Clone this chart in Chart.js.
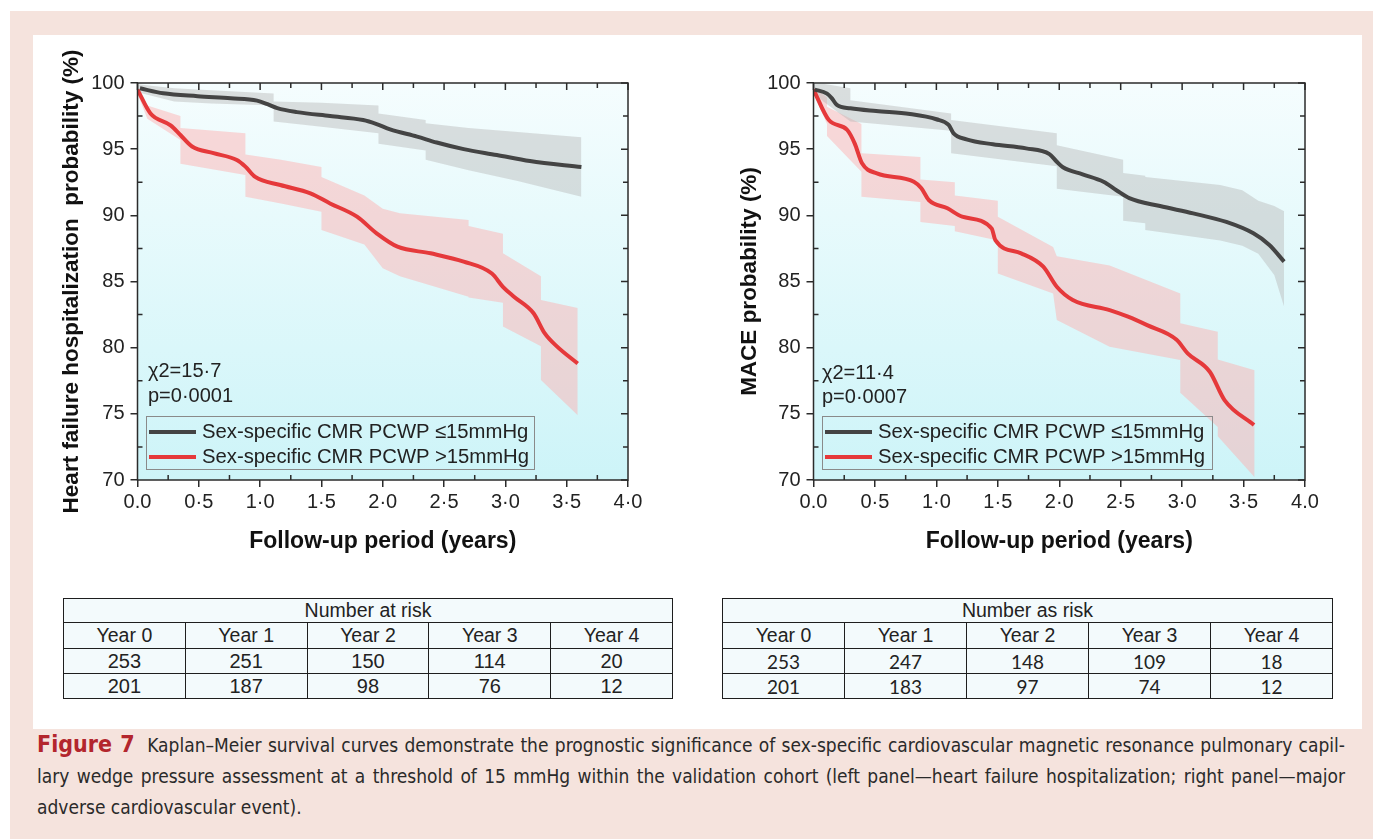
<!DOCTYPE html>
<html>
<head>
<meta charset="utf-8">
<script src="https://cdn.jsdelivr.net/npm/chart.js@4.4.0/dist/chart.umd.min.js"></script>
<style>
body { margin: 0; width: 1373px; height: 839px; background: #fff; position: relative; overflow: hidden;
       font-family: "Liberation Sans", Arial, sans-serif; color: #222; }
#pink { position: absolute; left: 10px; top: 11px; width: 1363px; height: 828px; background: #f5e3dd; }
#panel { position: absolute; left: 33px; top: 35px; width: 1329px; height: 694px; background: #fff; }
canvas { position: absolute; top: 40px; }
#cLeft { left: 40px; }
#cRight { left: 700px; }
.note { position: absolute; font-size: 20px; line-height: 25px; color: #222; white-space: nowrap; }
.legend { position: absolute; top: 416px; height: 54px; border: 1px solid #8a8a8a; box-sizing: border-box; }
.legend div { position: absolute; left: 2px; font-size: 20.3px; line-height: 24px; white-space: nowrap; color: #222; }
.legend span { display: inline-block; width: 47px; height: 4px; vertical-align: middle; margin-right: 6px; position: relative; top: -1px; }
table.risk { position: absolute; top: 598px; border-collapse: collapse; background: #f3fafc; table-layout: fixed; }
table.risk td { border: 1.5px solid #1e1e1e; text-align: center; padding: 0; font-size: 19.5px; color: #222; overflow: hidden; }
table.risk tr.h td { height: 23px; }
table.risk tr.y td { height: 25px; }
table.risk tr.n td { height: 24px; font-size: 20px; }
#tRight tr.n td { font-family: Lato, "Open Sans", sans-serif; font-size: 19px; }
.cap { position: absolute; left: 37px; width: 1308px; font-family: "Liberation Sans Narrow", "DejaVu Sans Condensed", sans-serif;
       font-size: 19px; line-height: 31px; color: #2a2a2a; white-space: nowrap; }
.cap.j { text-align: justify; text-align-last: justify; }
.cap b { color: #b3262d; font-size: 23px; }
</style>
</head>
<body>
<div id="pink"></div>
<div id="panel"></div>

<canvas id="cLeft" width="620" height="530"></canvas>
<canvas id="cRight" width="640" height="530"></canvas>

<div class="note" style="left:148px; top:358px;">χ2=15·7</div>
<div class="note" style="left:148px; top:383px;">p=0·0001</div>
<div class="note" style="left:822px; top:360px;">χ2=11·4</div>
<div class="note" style="left:822px; top:384px;">p=0·0007</div>

<div class="legend" style="left:146px; width:389px;">
  <div style="top:2px;"><span style="background:#444"></span>Sex-specific CMR PCWP ≤15mmHg</div>
  <div style="top:27px;"><span style="background:#e5393b"></span>Sex-specific CMR PCWP &gt;15mmHg</div>
</div>
<div class="legend" style="left:822px; width:391px;">
  <div style="top:2px;"><span style="background:#444"></span>Sex-specific CMR PCWP ≤15mmHg</div>
  <div style="top:27px;"><span style="background:#e5393b"></span>Sex-specific CMR PCWP &gt;15mmHg</div>
</div>

<table class="risk" id="tLeft" style="left:63px; width:610px;"></table>
<table class="risk" id="tRight" style="left:722px; width:611px;"></table>

<div class="cap j" style="top:729px;"><b>Figure 7</b>&nbsp; Kaplan–Meier survival curves demonstrate the prognostic significance of sex-specific cardiovascular magnetic resonance pulmonary capil-</div>
<div class="cap j" style="top:761px;">lary wedge pressure assessment at a threshold of 15 mmHg within the validation cohort (left panel—heart failure hospitalization; right panel—major</div>
<div class="cap" style="top:792px;">adverse cardiovascular event).</div>

<script>
// heart failure hospitalisation panel
const hfLowT = [0.02, 0.21, 0.49, 0.76, 0.975, 1.06, 1.14, 1.30, 1.57, 1.84, 1.95, 2.06, 2.28, 2.44, 2.66, 2.93, 3.20, 3.62];
const hfLowS = [99.6, 99.22, 99.0, 98.84, 98.67, 98.4, 98.1, 97.8, 97.5, 97.2, 96.9, 96.5, 95.95, 95.5, 95.0, 94.56, 94.1, 93.65];
const hfHighT = [0.0, 0.106, 0.27, 0.35, 0.445, 0.62, 0.81, 0.88, 0.96, 1.165, 1.41, 1.57, 1.79, 1.95, 2.12, 2.39, 2.66, 2.89, 2.98, 3.07, 3.23, 3.32, 3.42, 3.59];
const hfHighS = [99.5, 97.7, 96.8, 96.07, 95.2, 94.7, 94.18, 93.68, 92.9, 92.29, 91.66, 90.9, 89.9, 88.64, 87.63, 87.13, 86.5, 85.6, 84.6, 83.85, 82.6, 81.1, 80.1, 78.8];

const hfLowBandT  = [0.0, 0.3, 0.6, 1.11, 1.11, 1.5, 1.965, 1.965, 2.35, 2.35, 2.7, 3.1, 3.62];
const hfLowBandUp = [99.9, 99.6, 99.45, 99.2, 98.6, 98.5, 98.3, 97.7, 97.2, 96.95, 96.6, 96.3, 95.9];
const hfLowBandDn = [99.3, 98.6, 98.45, 98.3, 97.1, 96.7, 96.2, 95.4, 94.9, 94.2, 93.4, 92.6, 91.4];

const hfHighBandT  = [0.0, 0.08, 0.35, 0.35, 0.88, 0.88, 1.17, 1.5, 1.5, 1.85, 2.0, 2.14, 2.7, 2.7, 2.98, 2.98, 3.29, 3.29, 3.59];
const hfHighBandUp = [99.7, 98.3, 97.5, 96.6, 96.2, 94.6, 94.2, 93.66, 92.9, 91.5, 90.5, 90.15, 89.65, 89.2, 88.6, 87.13, 85.4, 83.6, 83.0];
const hfHighBandDn = [99.2, 97.3, 95.7, 93.9, 93.05, 91.4, 90.9, 90.27, 88.9, 87.8, 86.0, 85.4, 83.85, 83.8, 83.4, 81.6, 80.1, 77.55, 74.9];

// MACE panel
const maLowT = [0.01, 0.11, 0.15, 0.19, 0.30, 0.51, 0.785, 1.0, 1.1, 1.14, 1.245, 1.46, 1.73, 1.92, 1.98, 2.03, 2.19, 2.36, 2.465, 2.57, 2.82, 3.09, 3.36, 3.58, 3.71, 3.83];
const maLowS = [99.5, 99.2, 98.84, 98.34, 98.09, 97.88, 97.66, 97.26, 96.83, 96.2, 95.74, 95.37, 95.06, 94.63, 94.05, 93.63, 93.1, 92.54, 91.9, 91.3, 90.7, 90.15, 89.5, 88.64, 87.76, 86.5];
const maHighT = [0.0, 0.125, 0.275, 0.335, 0.395, 0.516, 0.817, 0.878, 0.938, 1.09, 1.21, 1.45, 1.48, 1.69, 1.87, 1.98, 2.11, 2.41, 2.56, 2.715, 2.955, 3.045, 3.225, 3.345, 3.585];
const maHighS = [99.5, 97.2, 96.45, 95.44, 93.93, 93.17, 92.54, 92.04, 91.16, 90.53, 89.9, 89.0, 88.13, 87.13, 86.12, 84.6, 83.6, 82.84, 82.34, 81.7, 80.6, 79.57, 78.18, 76.04, 74.15];

const maLowBandT  = [0.0, 0.08, 0.30, 0.30, 1.12, 1.12, 1.98, 1.98, 2.52, 2.52, 2.70, 2.70, 3.31, 3.49, 3.62, 3.75, 3.83];
const maLowBandUp = [99.9, 99.95, 99.6, 98.7, 97.7, 97.2, 96.2, 95.3, 94.2, 93.2, 93.0, 92.9, 92.3, 91.9, 91.1, 90.7, 90.3];
const maLowBandDn = [99.3, 98.6, 97.1, 97.1, 96.4, 94.7, 93.7, 92.0, 91.4, 89.6, 89.4, 88.9, 88.1, 87.7, 87.1, 85.5, 83.1];

const maHighBandT  = [0.0, 0.11, 0.11, 0.39, 0.39, 0.87, 0.87, 1.15, 1.15, 1.50, 1.50, 1.95, 1.98, 2.41, 2.985, 2.985, 3.29, 3.29, 3.59];
const maHighBandUp = [99.7, 98.9, 98.2, 96.9, 94.7, 94.4, 92.7, 92.5, 91.5, 91.1, 89.9, 87.6, 86.9, 86.2, 84.1, 81.85, 81.2, 79.1, 78.3];
const maHighBandDn = [99.2, 96.9, 96.0, 93.3, 91.4, 91.0, 89.5, 89.2, 88.8, 88.1, 85.6, 84.1, 82.1, 80.07, 79.06, 76.6, 74.0, 73.3, 70.2];

const xTicksLeft = ['0.0', '0·5', '1·0', '1·5', '2·0', '2·5', '3·0', '3·5', '4·0'];
const xTicksRight = ['0.0', '0·5', '1·0', '1·5', '2·0', '2·5', '3·0', '3·5', '4.0'];

const riskYears = ['Year 0', 'Year 1', 'Year 2', 'Year 3', 'Year 4'];
const hfRiskLow = [253, 251, 150, 114, 20];
const hfRiskHigh = [201, 187, 98, 76, 12];
const maRiskLow = [253, 247, 148, 109, 18];
const maRiskHigh = [201, 183, 97, 74, 12];

const GRAY = '#444444';
const RED = '#e5393b';
const FONT = '"Liberation Sans", Arial, sans-serif';

Chart.defaults.font.family = FONT;
Chart.defaults.color = '#222';

function pts(t, v) {
    return t.map((x, i) => ({ x: x, y: v[i] }));
}

const frame = {
    id: 'frame',
    beforeDraw(chart) {
        const { ctx, chartArea: a } = chart;
        const g = ctx.createLinearGradient(0, a.top, 0, a.bottom);
        g.addColorStop(0, '#f5fdfe');
        g.addColorStop(1, '#cdf4f8');
        ctx.save();
        ctx.fillStyle = g;
        ctx.fillRect(a.left, a.top, a.right - a.left, a.bottom - a.top);
        ctx.restore();
    },
    afterDraw(chart) {
        const { ctx, chartArea: a, scales: { x, y } } = chart;
        ctx.save();
        ctx.strokeStyle = '#2b2b2b';
        ctx.lineWidth = 1.5;
        ctx.strokeRect(a.left, a.top, a.right - a.left, a.bottom - a.top);
        ctx.beginPath();
        for (let i = 0; i <= 16; i++) {
            const px = x.getPixelForValue(i * 0.25);
            const major = i % 2 === 0;
            const len = major ? 7 : 5;
            ctx.moveTo(px, a.top); ctx.lineTo(px, a.top + len);
            if (!major) { ctx.moveTo(px, a.bottom); ctx.lineTo(px, a.bottom - len); }
        }
        for (let i = 0; i <= 12; i++) {
            const py = y.getPixelForValue(70 + i * 2.5);
            const major = i % 2 === 0;
            const len = major ? 7 : 5;
            ctx.moveTo(a.right, py); ctx.lineTo(a.right - len, py);
            if (!major) { ctx.moveTo(a.left, py); ctx.lineTo(a.left + len, py); }
        }
        ctx.stroke();
        ctx.restore();
    }
};

function makeChart(id, cfg) {
    const datasets = [
        { data: pts(cfg.lowT, cfg.lowS), borderColor: GRAY, borderWidth: 4, pointRadius: 0, cubicInterpolationMode: 'monotone', fill: false },
        { data: pts(cfg.highT, cfg.highS), borderColor: RED, borderWidth: 4, pointRadius: 0, cubicInterpolationMode: 'monotone', fill: false },
        { data: pts(cfg.lowBandT, cfg.lowBandUp), borderWidth: 0, borderColor: 'rgba(0,0,0,0)', pointRadius: 0, tension: 0, fill: false },
        { data: pts(cfg.lowBandT, cfg.lowBandDn), borderWidth: 0, borderColor: 'rgba(0,0,0,0)', pointRadius: 0, tension: 0,
          fill: 2, backgroundColor: 'rgba(185,185,185,0.45)' },
        { data: pts(cfg.highBandT, cfg.highBandUp), borderWidth: 0, borderColor: 'rgba(0,0,0,0)', pointRadius: 0, tension: 0, fill: false },
        { data: pts(cfg.highBandT, cfg.highBandDn), borderWidth: 0, borderColor: 'rgba(0,0,0,0)', pointRadius: 0, tension: 0,
          fill: 4, backgroundColor: 'rgba(255,170,170,0.45)' }
    ];
    return new Chart(document.getElementById(id), {
        type: 'line',
        data: { datasets: datasets },
        plugins: [frame],
        options: {
            responsive: false,
            animation: false,
            layout: { padding: { top: 43, right: cfg.padRight, bottom: 0, left: 0 } },
            plugins: { legend: { display: false }, tooltip: { enabled: false } },
            scales: {
                x: {
                    type: 'linear', min: 0, max: 4,
                    ticks: { stepSize: 0.5, autoSkip: false, maxRotation: 0, padding: 3,
                             font: { size: 20 }, color: '#222',
                             callback: (v, i) => cfg.xLabels[i] },
                    grid: { drawOnChartArea: false, tickLength: 7, color: '#2b2b2b', lineWidth: 1.5 },
                    border: { display: false },
                    title: { display: true, text: 'Follow-up period (years)', color: '#111',
                             font: { size: 23, weight: 'bold' }, padding: { top: 0, bottom: 15 } },
                    afterFit: s => { s.height = 90; }
                },
                y: {
                    min: 70, max: 100,
                    ticks: { stepSize: 5, padding: 6, font: { size: 20 }, color: '#222' },
                    grid: { drawOnChartArea: false, tickLength: 7, color: '#2b2b2b', lineWidth: 1.5 },
                    border: { display: false },
                    title: { display: true, text: cfg.yTitle, color: '#111',
                             font: { size: 22.5, weight: 'bold' }, padding: { top: cfg.yTitlePad, bottom: 0 } },
                    afterFit: s => { s.width = cfg.yWidth; }
                }
            }
        }
    });
}

function fillTable(id, title, rows) {
    const t = document.getElementById(id);
    let html = '<tr class="h"><td colspan="5">' + title + '</td></tr>';
    html += '<tr class="y">' + riskYears.map(y => '<td>' + y + '</td>').join('') + '</tr>';
    rows.forEach(r => {
        html += '<tr class="n">' + r.map(v => '<td>' + v + '</td>').join('') + '</tr>';
    });
    t.innerHTML = html;
}

makeChart('cLeft', {
    lowT: hfLowT, lowS: hfLowS, highT: hfHighT, highS: hfHighS,
    lowBandT: hfLowBandT, lowBandUp: hfLowBandUp, lowBandDn: hfLowBandDn,
    highBandT: hfHighBandT, highBandUp: hfHighBandUp, highBandDn: hfHighBandDn,
    xLabels: xTicksLeft, yTitle: 'Heart failure hospitalization  probability (%)',
    yWidth: 97.5, yTitlePad: 18.5, padRight: 32
});

makeChart('cRight', {
    lowT: maLowT, lowS: maLowS, highT: maHighT, highS: maHighS,
    lowBandT: maLowBandT, lowBandUp: maLowBandUp, lowBandDn: maLowBandDn,
    highBandT: maHighBandT, highBandUp: maHighBandUp, highBandDn: maHighBandDn,
    xLabels: xTicksRight, yTitle: 'MACE probability (%)',
    yWidth: 113.5, yTitlePad: 36.5, padRight: 35
});

fillTable('tLeft', 'Number at risk', [hfRiskLow, hfRiskHigh]);
fillTable('tRight', 'Number as risk', [maRiskLow, maRiskHigh]);
</script>
</body>
</html>
